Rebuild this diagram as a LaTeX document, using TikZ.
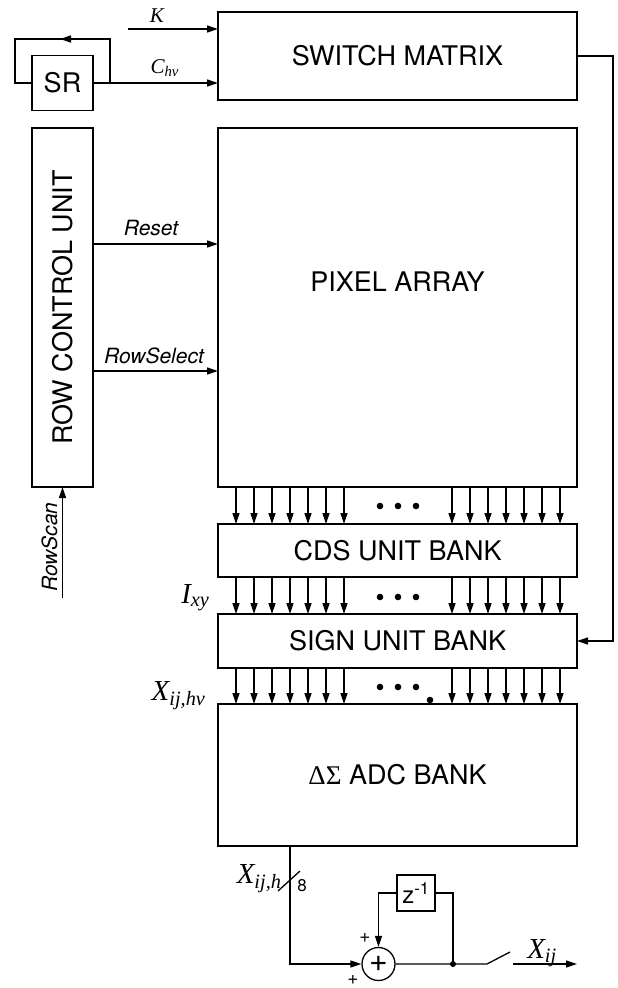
\documentclass[tikz,border=0pt]{standalone}
\usepackage{fontspec}
\setmainfont{TeX Gyre Heros}
\newfontfamily\tms{Liberation Serif}
\usetikzlibrary{arrows.meta,decorations.markings,calc}
\newcommand\fsz[1]{\fontsize{#1}{#1}\selectfont}
\begin{document}
\begin{tikzpicture}[x=1pt,y=-1pt,
  box/.style={draw, line width=1.3pt, inner sep=0pt, outer sep=0pt, font=\fsz{27}},
  ln/.style={line width=1.3pt},
  arr/.style={line width=1.3pt, -{Triangle[length=11pt,width=7pt]}},
  mlab/.style={font=\tms\itshape\fsz{29}},
  slab/.style={font=\tms\itshape\fsz{21}},
  ilab/.style={font=\itshape\fsz{21}},
  dot/.style={fill=black}]
\useasboundingbox (0,0) rectangle (618,988);
% blocks
\node[box, minimum width=359pt, minimum height=88pt] (sw) at (397.5,56) {SWITCH MATRIX};
\node[box, minimum width=61pt, minimum height=55pt] (sr) at (62.5,83) {SR};
\node[box, minimum width=61pt, minimum height=359pt] (rcu) at (62.5,307.5) {};
\node[rotate=90, font=\fsz{27}] (rcut) at (rcu.center) {ROW CONTROL UNIT};
\node[box, minimum width=359pt, minimum height=359pt] (pix) at (397.5,307.5) {};
\node[font=\fsz{27}] (pixt) at (397.5,282) {PIXEL ARRAY};
\node[box, minimum width=359pt, minimum height=53pt] (cds) at (397.5,550.5) {CDS UNIT BANK};
\node[box, minimum width=359pt, minimum height=54pt] (sign) at (397.5,641) {SIGN UNIT BANK};
\node[box, minimum width=359pt, minimum height=142pt] (adc) at (397.5,775) {{\tms ΔΣ} ADC BANK};
% top inputs
\coordinate (kin) at (128,29);
\draw[arr] (kin) -- (kin -| sw.west);
\node[slab, anchor=base] (kl) at (157,22) {K};
\draw[arr] (sr.east) -- (sr.east -| sw.west);
\node[slab, anchor=base west] (cl) at (147,73) {C\textsubscript{hv}};
\coordinate (lp) at (110,83);
\coordinate (lt) at (110,39);
\coordinate (ll) at (15,39);
\draw[ln, postaction={decorate}, decoration={markings, mark=at position 0.47 with {\arrow{Triangle[length=11pt,width=7pt]}}}]
  (lp) -- (lt) -- (ll) -- (ll |- sr.west) -- (sr.west);
% switch matrix to sign unit bank
\coordinate (fb) at (613,0);
\draw[arr] (sw.east) -| (fb |- sign.east) -- (sign.east);
% row control
\coordinate (yr) at (0,244);
\coordinate (ys) at (0,371);
\draw[arr] (rcu.east |- yr) -- (pix.west |- yr);
\node[ilab, anchor=base] (rl) at (151,235) {Reset};
\draw[arr] (rcu.east |- ys) -- (pix.west |- ys);
\node[ilab, anchor=base] (sl) at (154,363) {RowSelect};
\coordinate (rs) at (62.5,598);
\draw[arr] (rs) -- (rcu.south);
\node[ilab, rotate=90, anchor=base] (rsl) at (57,547) {RowScan};
% column arrows
\foreach \x in {236,254,272,290,308,326,344,452,470,488,506,524,542,560} {
  \coordinate (cx) at (\x,0);
  \draw[arr] (pix.south -| cx) -- (cds.north -| cx);
  \draw[arr] (cds.south -| cx) -- (sign.north -| cx);
  \draw[arr] (sign.south -| cx) -- (adc.north -| cx);
}
\foreach \y in {506,597,687} { \foreach \x in {380,398,416} { \fill (\x,\y) circle (3.3pt); } }
\fill (430,700) circle (3.3pt);
\node[mlab, anchor=base east] (ixy) at (213,603) {I\textsubscript{xy}};
\node[mlab, anchor=base east] (xhv) at (209,700) {X\textsubscript{ij,hv}};
% accumulator
\node[draw, circle, line width=1.3pt, minimum size=33pt, inner sep=0pt, font=\fsz{32}] (sum) at (378.5,964) {+};
\node[box, minimum width=38pt, minimum height=36pt, font=\fsz{24}] (zd) at (416,893) {z\textsuperscript{-1}};
\coordinate (xo) at (290,0);
\draw[arr] (adc.south -| xo) |- (sum.west);
\draw[ln] (278,891) -- (300,871);
\node[font=\fsz{17}] (eight) at (302,886) {8};
\node[mlab, anchor=base east] (xh) at (285,883) {X\textsubscript{ij,h}};
\coordinate (jn) at (453,964);
\coordinate (s1) at (487,964);
\coordinate (s2) at (510,952);
\coordinate (s3) at (513,964);
\coordinate (xout) at (577,964);
\draw[ln] (sum.east) -- (jn) -- (s1) -- (s2);
\fill (jn) circle (3pt);
\draw[ln] (jn) |- (zd.east);
\draw[arr] (zd.west) -| (sum.north);
\draw[arr] (s3) -- (xout);
\node[font=\fsz{19}] (p1) at (365,938) {+};
\node[font=\fsz{19}] (p2) at (353,980) {+};
\node[mlab, anchor=base] (xij) at (542,958) {X\textsubscript{ij}};
\end{tikzpicture}
\end{document}
